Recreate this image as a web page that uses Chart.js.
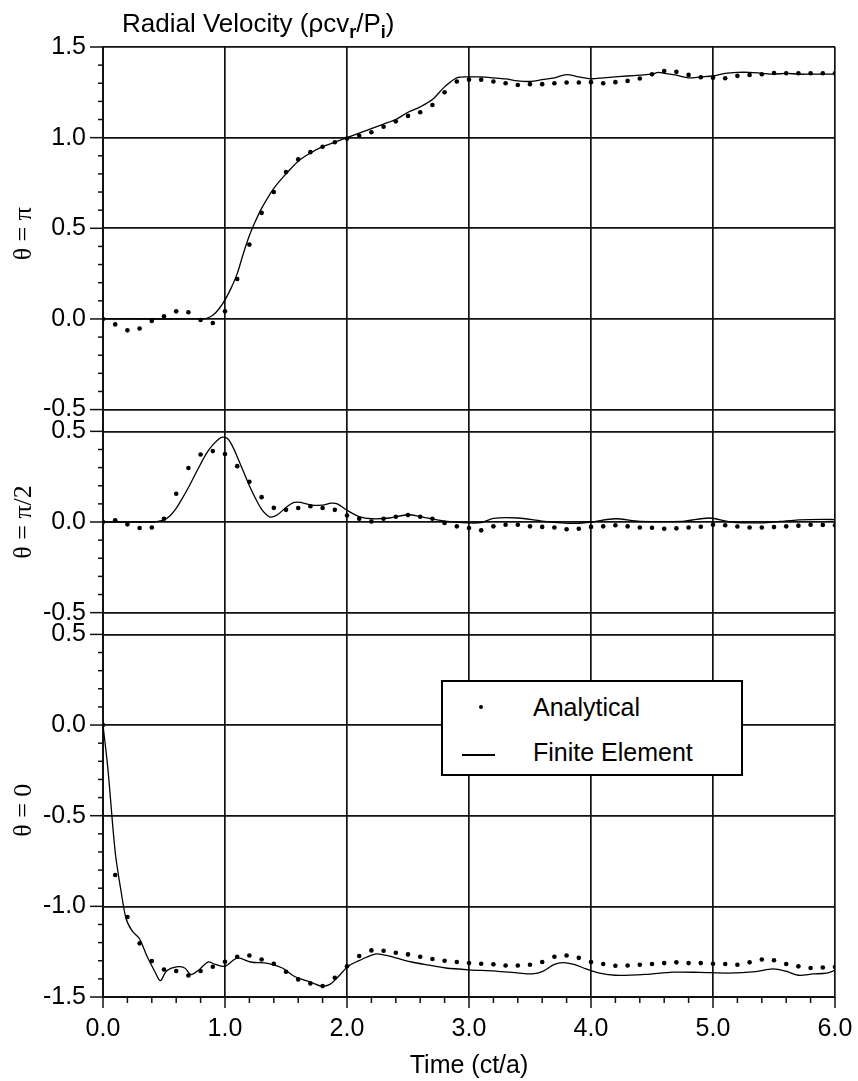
<!DOCTYPE html>
<html><head><meta charset="utf-8">
<script src="https://cdn.jsdelivr.net/npm/chart.js@4.4.1/dist/chart.umd.min.js"></script>
<style>
html,body{margin:0;padding:0;background:#fff;}
#wrap{position:relative;width:858px;height:1081px;overflow:hidden;background:#fff;}
#c{position:absolute;left:0;top:0;}
#title{position:absolute;left:122px;top:8px;font:26px "Liberation Sans",Arial,sans-serif;color:#000;white-space:nowrap;line-height:30px;}
#title sub{font-size:18px;vertical-align:-6px;line-height:0;font-weight:bold;}
#legend{position:absolute;left:441px;top:680px;width:298px;height:92px;border:2px solid #000;background:#fff;font:25px "Liberation Sans",Arial,sans-serif;color:#000;}
#legend .dot{position:absolute;left:36px;top:23px;width:4px;height:4px;border-radius:2px;background:#000;}
#legend .ln{position:absolute;left:19px;top:72px;width:33px;height:1.5px;background:#000;}
#legend .t{position:absolute;left:90px;line-height:30px;white-space:nowrap;}
</style></head>
<body>
<div id="wrap">
<canvas id="c" width="858" height="1081"></canvas>
<div id="title">Radial Velocity (ρcv<sub>r</sub>/P<sub>i</sub>)</div>
<div id="legend">
  <div class="dot"></div><div class="t" style="top:10px">Analytical</div>
  <div class="ln"></div><div class="t" style="top:55px">Finite Element</div>
</div>
</div>
<script>
// ---------- data ----------
const analyticalTimes = [0.0,0.1,0.2,0.3,0.4,0.5,0.6,0.7,0.8,0.9,1.0,1.1,1.2,1.3,1.4,1.5,1.6,1.7,1.8,1.9,2.0,
  2.1,2.2,2.3,2.4,2.5,2.6,2.7,2.8,2.9,3.0,3.1,3.2,3.3,3.4,3.5,3.6,3.7,3.8,3.9,4.0,
  4.1,4.2,4.3,4.4,4.5,4.6,4.7,4.8,4.9,5.0,5.1,5.2,5.3,5.4,5.5,5.6,5.7,5.8,5.9,6.0];

const analyticalPi = [0,-0.03,-0.063,-0.053,-0.011,0.015,0.042,0.037,-0.006,-0.022,0.042,
  0.22,0.41,0.585,0.70,0.81,0.88,0.92,0.95,0.975,0.995,
  1.01,1.03,1.06,1.09,1.12,1.14,1.18,1.25,1.31,1.32,
  1.32,1.31,1.30,1.29,1.295,1.295,1.30,1.304,1.304,1.306,
  1.30,1.306,1.313,1.326,1.35,1.368,1.363,1.346,1.333,1.331,
  1.328,1.341,1.346,1.35,1.357,1.355,1.355,1.355,1.355,1.355];

const analyticalHalfPi = [0,0.009,-0.013,-0.033,-0.03,0.018,0.156,0.298,0.372,0.391,0.375,
  0.308,0.222,0.137,0.078,0.067,0.077,0.087,0.077,0.067,0.036,
  0.018,0.003,0.018,0.029,0.038,0.029,0.018,-0.005,-0.024,-0.033,
  -0.046,-0.024,-0.015,-0.015,-0.024,-0.027,-0.03,-0.04,-0.037,-0.027,
  -0.024,-0.018,-0.024,-0.03,-0.032,-0.037,-0.035,-0.03,-0.026,-0.015,
  -0.018,-0.025,-0.03,-0.03,-0.028,-0.024,-0.02,-0.015,-0.016,-0.018];

const analyticalZero = [0,-0.827,-1.059,-1.204,-1.302,-1.348,-1.357,-1.381,-1.357,-1.333,-1.306,
  -1.278,-1.271,-1.293,-1.317,-1.361,-1.403,-1.425,-1.44,-1.394,-1.33,
  -1.274,-1.243,-1.245,-1.256,-1.265,-1.278,-1.29,-1.30,-1.307,-1.313,
  -1.317,-1.32,-1.326,-1.326,-1.322,-1.307,-1.278,-1.271,-1.284,-1.307,
  -1.318,-1.328,-1.326,-1.322,-1.318,-1.313,-1.309,-1.313,-1.313,-1.317,
  -1.318,-1.322,-1.309,-1.293,-1.297,-1.318,-1.331,-1.34,-1.337,-1.335];

const feTimesPi = [0,0.8,0.85,0.9,0.95,1.0,1.05,1.1,1.15,1.2,1.25,1.3,1.4,1.5,1.6,1.7,1.8,1.9,2.0,
  2.1,2.2,2.3,2.4,2.5,2.6,2.7,2.8,2.9,3.0,3.1,3.2,3.3,3.4,3.5,3.6,3.7,3.8,3.9,4.0,
  4.1,4.2,4.3,4.4,4.5,4.55,4.6,4.7,4.8,4.9,5.0,5.1,5.2,5.3,5.4,5.5,5.6,5.7,5.8,5.9,6.0];
const fePi = [0,0,0.003,0.02,0.055,0.105,0.17,0.25,0.36,0.46,0.54,0.61,0.72,0.80,0.87,0.915,0.95,0.975,1.0,
  1.025,1.05,1.075,1.10,1.14,1.17,1.21,1.28,1.33,1.335,1.335,1.33,1.324,1.313,1.31,1.32,1.33,1.348,1.335,1.325,
  1.33,1.335,1.34,1.345,1.35,1.36,1.355,1.345,1.33,1.335,1.34,1.355,1.36,1.36,1.355,1.35,1.355,1.35,1.35,1.35,1.35];

const feTimesHalfPi = [0,0.4,0.45,0.5,0.55,0.6,0.65,0.7,0.75,0.8,0.85,0.9,0.95,0.98,1.02,1.06,1.1,1.15,1.2,1.25,
  1.3,1.35,1.38,1.43,1.5,1.56,1.62,1.7,1.8,1.87,1.92,2.0,2.1,2.2,2.35,2.5,2.6,2.8,3.0,3.1,
  3.2,3.4,3.6,3.85,4.0,4.2,4.4,4.75,4.97,5.15,5.4,5.55,5.7,5.9,6.0];
const feHalfPi = [0,0,0.003,0.012,0.035,0.075,0.13,0.19,0.255,0.32,0.38,0.425,0.458,0.468,0.46,0.42,0.36,0.28,0.2,0.13,
  0.07,0.035,0.027,0.04,0.08,0.107,0.108,0.095,0.093,0.104,0.1,0.065,0.03,0.018,0.022,0.04,0.03,0.005,-0.005,-0.003,
  0.02,0.022,0.005,-0.008,0.0,0.018,0.004,0.004,0.022,0.0,-0.005,0.003,0.012,0.015,0.013];

const feTimesZero = [0,0.04,0.1,0.15,0.19,0.24,0.3,0.36,0.43,0.47,0.52,0.6,0.67,0.72,0.79,0.86,0.92,1.0,1.1,1.21,
  1.35,1.47,1.57,1.71,1.79,1.86,1.93,2.01,2.12,2.23,2.33,2.4,2.53,2.67,2.81,3.0,3.22,3.41,3.52,3.6,
  3.7,3.77,3.86,3.96,4.07,4.2,4.45,4.67,4.89,5.13,5.35,5.49,5.6,5.7,5.82,5.93,6.0];
const feZero = [0,-0.24,-0.70,-0.925,-1.07,-1.137,-1.18,-1.274,-1.366,-1.41,-1.357,-1.334,-1.34,-1.376,-1.348,-1.307,-1.32,-1.33,-1.285,-1.307,
  -1.315,-1.34,-1.387,-1.42,-1.44,-1.43,-1.387,-1.33,-1.293,-1.263,-1.272,-1.284,-1.307,-1.324,-1.34,-1.35,-1.357,-1.368,-1.372,-1.36,
  -1.32,-1.31,-1.32,-1.345,-1.368,-1.38,-1.375,-1.363,-1.364,-1.368,-1.36,-1.345,-1.358,-1.38,-1.373,-1.368,-1.353];

const xTickLabels = ['0.0','1.0','2.0','3.0','4.0','5.0','6.0'];
const panelTitles = ['θ = π', 'θ = π/2', 'θ = 0'];
const panelRanges = [[-0.5, 1.5], [-0.5, 0.5], [-1.5, 0.5]];

// ---------- helpers ----------
function pts(ts, vs) { return ts.map((t, i) => ({x: t, y: vs[i]})); }
function stepTicks(lo, hi, step) {
  const out = []; const n = Math.round((hi - lo) / step);
  for (let i = 0; i <= n; i++) out.push({value: Math.round((lo + i * step) * 1000) / 1000});
  return out;
}
const isMult = (v, m) => Math.abs(v / m - Math.round(v / m)) < 1e-6;
const INK = '#111';
const gap = 0.06;
const target = {left: 103, right: 835, top: 47, bottom: 997};

function yScale(idx, weight) {
  const [lo, hi] = panelRanges[idx];
  return {
    type: 'linear', position: 'left', stack: 'panels', stackWeight: weight,
    min: lo - (idx === 2 ? 0 : gap), max: hi + (idx === 0 ? 0 : gap),
    afterBuildTicks: s => { s.ticks = stepTicks(lo, hi, 0.1); },
    afterFit: s => { s.width = target.left; },
    border: {display: true, color: INK, width: 2},
    grid: {drawTicks: false, lineWidth: 1.7,
      color: c => (c.tick && isMult(c.tick.value, 0.5)) ? INK : 'rgba(0,0,0,0)'},
    ticks: {autoSkip: false, padding: 17, color: '#000',
      font: {family: '"Liberation Sans", Arial, sans-serif', size: 25},
      callback: v => isMult(v, 0.5) ? (Math.abs(v) < 1e-9 ? '0.0' : v.toFixed(1)) : ''},
    title: {display: true, text: panelTitles[idx], color: '#000',
      font: {family: '"Liberation Serif", "Times New Roman", serif', size: 26},
      padding: {top: 9, bottom: 0}}
  };
}

const tickMarks = {
  id: 'tickMarks',
  afterDraw(chart) {
    const ctx = chart.ctx; ctx.save();
    ctx.strokeStyle = INK; ctx.lineWidth = 1.5;
    const xs = chart.scales.x;
    xs.ticks.forEach(t => {
      const px = xs.getPixelForValue(t.value);
      const major = isMult(t.value, 1);
      ctx.beginPath(); ctx.moveTo(px, xs.top); ctx.lineTo(px, xs.top + (major ? 11 : 6)); ctx.stroke();
    });
    ['yTop', 'yMid', 'yBot'].forEach(id => {
      const s = chart.scales[id];
      s.ticks.forEach(t => {
        const py = s.getPixelForValue(t.value);
        const major = isMult(t.value, 0.5);
        ctx.beginPath(); ctx.moveTo(s.right, py); ctx.lineTo(s.right - (major ? 13 : 5), py); ctx.stroke();
      });
    });
    ctx.restore();
  }
};

const dotStyle = {showLine: false, pointRadius: 2.3, pointHoverRadius: 2.3,
  pointBackgroundColor: '#000', pointBorderWidth: 0, borderColor: '#000'};
const lineStyle = {borderColor: '#000', borderWidth: 1.3, pointRadius: 0, tension: 0.3, fill: false};

const pad = {top: target.top, right: 858 - target.right, left: 0, bottom: 0};

const chart = new Chart(document.getElementById('c'), {
  type: 'line',
  data: {datasets: [
    Object.assign({label: 'Analytical', yAxisID: 'yTop', data: pts(analyticalTimes, analyticalPi)}, dotStyle),
    Object.assign({label: 'Finite Element', yAxisID: 'yTop', data: pts(feTimesPi, fePi)}, lineStyle),
    Object.assign({label: 'Analytical', yAxisID: 'yMid', data: pts(analyticalTimes, analyticalHalfPi)}, dotStyle),
    Object.assign({label: 'Finite Element', yAxisID: 'yMid', data: pts(feTimesHalfPi, feHalfPi)}, lineStyle),
    Object.assign({label: 'Analytical', yAxisID: 'yBot', data: pts(analyticalTimes, analyticalZero)}, dotStyle),
    Object.assign({label: 'Finite Element', yAxisID: 'yBot', data: pts(feTimesZero, feZero)}, lineStyle)
  ]},
  options: {
    responsive: false, animation: false, devicePixelRatio: 1,
    layout: {padding: Object.assign({}, pad)},
    plugins: {legend: {display: false}, tooltip: {enabled: false}},
    scales: {
      x: {type: 'linear', position: 'bottom', min: 0, max: 6,
        afterBuildTicks: s => { s.ticks = stepTicks(0, 6, 0.2); },
        afterFit: s => { s.height = 1081 - target.bottom; s.paddingLeft = 0; s.paddingRight = 0; },
        border: {display: true, color: INK, width: 2},
        grid: {drawTicks: false, lineWidth: 1.7,
          color: c => (c.tick && isMult(c.tick.value, 1)) ? INK : 'rgba(0,0,0,0)'},
        ticks: {autoSkip: false, maxRotation: 0, padding: 17, color: '#000',
          font: {family: '"Liberation Sans", Arial, sans-serif', size: 25},
          callback: v => isMult(v, 1) ? xTickLabels[Math.round(v)] : ''},
        title: {display: true, text: 'Time (ct/a)', color: '#000',
          font: {family: '"Liberation Sans", Arial, sans-serif', size: 25},
          padding: {top: 0, bottom: 0}}
      },
      yBot: yScale(2, 2 + gap),
      yMid: yScale(1, 1 + 2 * gap),
      yTop: yScale(0, 2 + gap)
    }
  },
  plugins: [tickMarks]
});

// nudge layout padding so the plot area lands exactly on the target box
for (let k = 0; k < 4; k++) {
  const a = chart.chartArea;
  const dr = a.right - target.right, dt = a.top - target.top, db = a.bottom - target.bottom;
  if (Math.abs(dr) + Math.abs(dt) + Math.abs(db) < 0.5) break;
  pad.right += dr; pad.top -= dt; pad.bottom += db;
  chart.options.layout.padding = Object.assign({}, pad);
  chart.update();
}
</script>
</body></html>
